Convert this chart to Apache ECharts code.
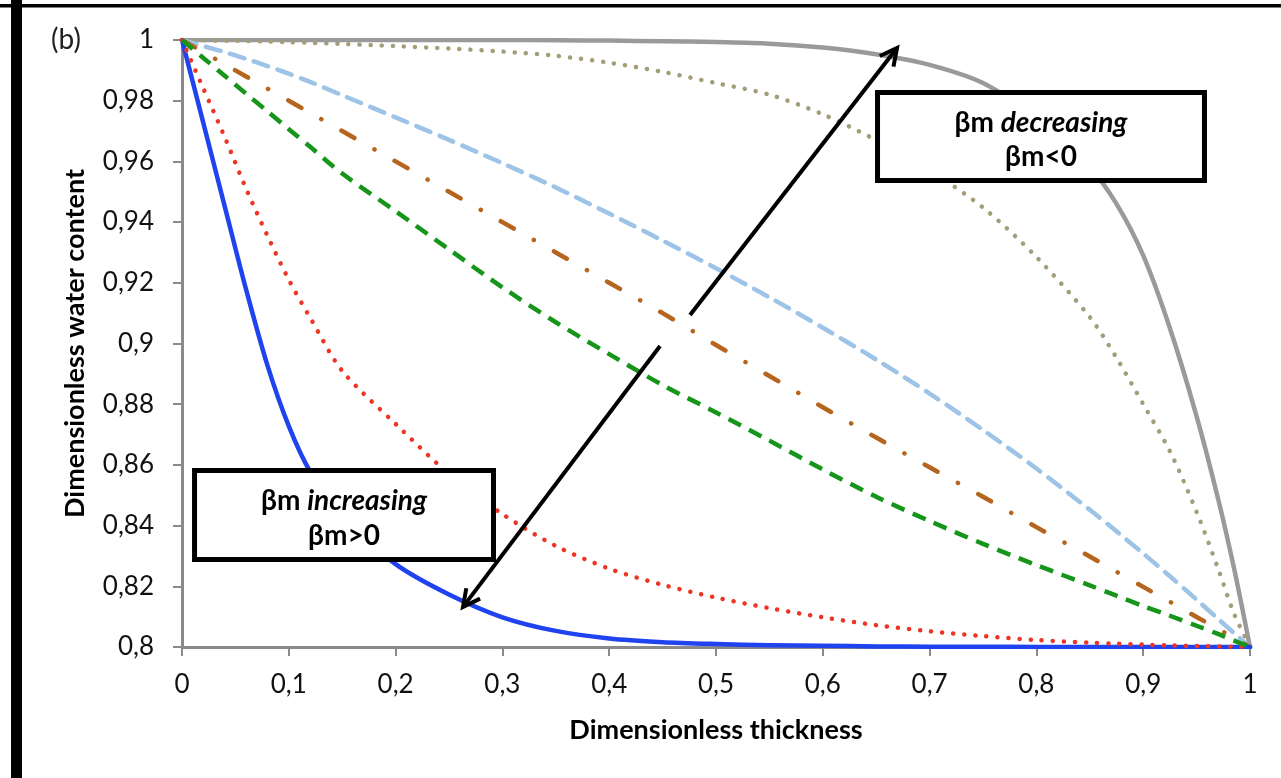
<!DOCTYPE html>
<html>
<head>
<meta charset="utf-8">
<script src="https://cdn.jsdelivr.net/npm/echarts@6/dist/echarts.min.js"></script>
<style>
  html, body { margin: 0; padding: 0; background: #fff; }
  #chart { width: 1281px; height: 778px; }
</style>
</head>
<body>
<div id="chart"></div>
<script>
// Dimensionless thickness sample positions
const xGrid = [0, 0.02, 0.04, 0.06, 0.08, 0.1, 0.12, 0.15, 0.2, 0.25, 0.3, 0.35, 0.4, 0.45, 0.5,
  0.55, 0.6, 0.65, 0.7, 0.75, 0.8, 0.85, 0.875, 0.9, 0.925, 0.95, 0.97, 0.985, 1];

// Dimensionless water content profiles
const curveBlue = [1, 0.9726, 0.9452, 0.9178, 0.8928, 0.8728, 0.8578, 0.8428, 0.8273, 0.8173, 0.8098, 0.8053,
  0.8028, 0.8016, 0.801, 0.8006, 0.8004, 0.8002, 0.8001, 0.8001, 0.8, 0.8, 0.8, 0.8, 0.8, 0.8, 0.8, 0.8, 0.8];
const curveRed = [1, 0.984, 0.968, 0.951, 0.9355, 0.921, 0.9085, 0.891, 0.8735, 0.857, 0.8438, 0.8333,
  0.8258, 0.8205, 0.8163, 0.8128, 0.8098, 0.8072, 0.8052, 0.8036, 0.8023, 0.8014, 0.8011, 0.8008, 0.8005, 0.8003, 0.8002, 0.8001, 0.8];
const curveGreen = [1, 0.9941, 0.9882, 0.9823, 0.9765, 0.9706, 0.9648, 0.956, 0.9436, 0.931, 0.9185, 0.907,
  0.8965, 0.8863, 0.8773, 0.868, 0.8585, 0.8495, 0.8415, 0.834, 0.827, 0.8203, 0.8169, 0.8135, 0.8103, 0.807, 0.8043, 0.8021, 0.8];
const curveBrown = [1, 0.996, 0.992, 0.988, 0.984, 0.98, 0.976, 0.97, 0.96, 0.95, 0.94, 0.93,
  0.92, 0.91, 0.8995, 0.8893, 0.879, 0.869, 0.8592, 0.8495, 0.8395, 0.8298, 0.8248, 0.8198, 0.8149, 0.8099, 0.806, 0.803, 0.8];
const curveLightBlue = [1, 0.998, 0.996, 0.9938, 0.9914, 0.9889, 0.9862, 0.9818, 0.9745, 0.9671, 0.9594, 0.9514,
  0.9428, 0.9339, 0.9248, 0.9152, 0.9052, 0.8947, 0.8835, 0.8715, 0.8588, 0.8452, 0.8381, 0.8308, 0.8233, 0.8156, 0.8093, 0.8046, 0.8];
const curveTan = [1, 0.9999, 0.9998, 0.9997, 0.9995, 0.9993, 0.9991, 0.9987, 0.998, 0.9972, 0.9962, 0.9948,
  0.9925, 0.9895, 0.9858, 0.982, 0.9755, 0.967, 0.957, 0.9448, 0.9285, 0.9087, 0.8953, 0.88, 0.8645, 0.8445, 0.826, 0.811, 0.8];
const curveGray = [1, 1, 1, 1, 1, 1, 1, 1, 1, 1, 1, 0.9999,
  0.9998, 0.9996, 0.9993, 0.9988, 0.9975, 0.9953, 0.9918, 0.9858, 0.974, 0.958, 0.946, 0.929, 0.905, 0.876, 0.849, 0.826, 0.8];

// Axis tick labels (decimal comma)
const xTickLabels = ['0', '0,1', '0,2', '0,3', '0,4', '0,5', '0,6', '0,7', '0,8', '0,9', '1'];
const yTickLabels = ['0,8', '0,82', '0,84', '0,86', '0,88', '0,9', '0,92', '0,94', '0,96', '0,98', '1'];

// Annotation anchors in data space: [x, y]
const arrowUp = { from: [0.4757, 0.9094], to: [0.6695, 0.9974] };
const arrowDown = { from: [0.4476, 0.8992], to: [0.2631, 0.8132] };
const boxDecreasing = { tl: [0.6489, 0.9835], br: [0.9597, 0.9529] };
const boxIncreasing = { tl: [0.0094, 0.8590], br: [0.2940, 0.8280] };

const FONT = 'Lato, "Noto Sans", sans-serif';

function pairs(ys) { return xGrid.map((x, i) => [x, ys[i]]); }

function lineSeries(name, ys, color, width, dash, cap) {
  return {
    name, type: 'line', data: pairs(ys), showSymbol: false, symbol: 'none',
    smooth: 0.3, silent: true,
    lineStyle: { color, width, type: dash, cap: cap || 'butt', join: 'round' }
  };
}

const chart = echarts.init(document.getElementById('chart'), null, { renderer: 'canvas' });

const axisGray = '#8a8a8a';

chart.setOption({
  animation: false,
  backgroundColor: '#ffffff',
  grid: { left: 182, right: 31, top: 40, bottom: 131 },
  xAxis: {
    type: 'value', min: 0, max: 1, interval: 0.1,
    name: 'Dimensionless thickness', nameLocation: 'middle', nameGap: 70,
    nameTextStyle: { fontFamily: FONT, fontWeight: 'bold', fontSize: 27, color: '#000' },
    axisLine: { show: true, lineStyle: { color: axisGray, width: 3 } },
    axisTick: { show: true, inside: false, length: 9, lineStyle: { color: axisGray, width: 2 } },
    axisLabel: {
      margin: 25, fontFamily: FONT, fontSize: 26, color: '#111',
      formatter: (v, i) => xTickLabels[i]
    },
    splitLine: { show: false }
  },
  yAxis: {
    type: 'value', min: 0.8, max: 1, interval: 0.02,
    name: 'Dimensionless water content', nameLocation: 'middle', nameGap: 93, nameRotate: 90,
    nameTextStyle: { fontFamily: FONT, fontWeight: 'bold', fontSize: 27, color: '#000' },
    axisLine: { show: true, lineStyle: { color: axisGray, width: 3 } },
    axisTick: { show: true, inside: false, length: 9, lineStyle: { color: axisGray, width: 2 } },
    axisLabel: {
      margin: 28, fontFamily: FONT, fontSize: 26, color: '#111',
      formatter: (v, i) => yTickLabels[i]
    },
    splitLine: { show: false }
  },
  series: [
    lineSeries('gray', curveGray, '#9a9a9a', 4.5, 'solid', 'round'),
    lineSeries('tan', curveTan, '#a39d78', 4.5, [0.1, 11], 'round'),
    lineSeries('lightblue', curveLightBlue, '#9dc3e6', 4.5, [15, 10], 'round'),
    lineSeries('brown', curveBrown, '#b5651d', 4.5, [15, 23, 0.1, 23], 'round'),
    lineSeries('blue', curveBlue, '#1f43ee', 4.5, 'solid', 'round'),
    lineSeries('red', curveRed, '#ee3524', 4.5, [0.1, 11], 'round'),
    lineSeries('green', curveGreen, '#15951a', 4.5, [14, 9], 'butt')
  ]
});

// Annotations: frame, panel label, arrows and boxes
function px(p) { return chart.convertToPixel({ gridIndex: 0 }, p); }

function arrow(a) {
  const s = px(a.from), e = px(a.to);
  const dx = e[0] - s[0], dy = e[1] - s[1];
  const len = Math.hypot(dx, dy);
  const ux = dx / len, uy = dy / len;
  const headLen = 19, ang = 27 * Math.PI / 180;
  const rot = (x, y, t) => [x * Math.cos(t) - y * Math.sin(t), x * Math.sin(t) + y * Math.cos(t)];
  const b1 = rot(-ux, -uy, ang), b2 = rot(-ux, -uy, -ang);
  const stroke = { stroke: '#000', lineWidth: 4, lineCap: 'butt', lineJoin: 'miter', fill: null };
  return [
    { type: 'line', shape: { x1: s[0], y1: s[1], x2: e[0] - ux * 2, y2: e[1] - uy * 2 }, style: stroke, z: 100 },
    { type: 'polyline', shape: { points: [[e[0] + b1[0] * headLen, e[1] + b1[1] * headLen], e, [e[0] + b2[0] * headLen, e[1] + b2[1] * headLen]] }, style: stroke, z: 100 }
  ];
}

function box(b, line1Word, line2) {
  const p1 = px(b.tl), p2 = px(b.br);
  const w = p2[0] - p1[0], h = p2[1] - p1[1];
  const cx = p1[0] + w / 2;
  return [
    { type: 'rect', shape: { x: p1[0] + 2.5, y: p1[1] + 2.5, width: w - 5, height: h - 5 },
      style: { fill: '#fff', stroke: '#000', lineWidth: 5 }, z: 110 },
    { type: 'text', x: cx, y: p1[1] + h * 0.35, z: 120,
      style: {
        text: '{a|βm }{b|' + line1Word + '}', align: 'center', verticalAlign: 'middle',
        rich: {
          a: { fontFamily: FONT, fontWeight: 'bold', fontSize: 28, fill: '#000' },
          b: { fontFamily: FONT, fontWeight: 'bold', fontStyle: 'italic', fontSize: 28, fill: '#000' }
        }
      } },
    { type: 'text', x: cx, y: p1[1] + h * 0.72, z: 120,
      style: { text: line2, align: 'center', verticalAlign: 'middle',
        fontFamily: FONT, fontWeight: 'bold', fontSize: 28, fill: '#000' } }
  ];
}

const graphics = [
  { type: 'rect', shape: { x: 0, y: 4, width: 1281, height: 3.5 }, style: { fill: '#000' }, z: 200 },
  { type: 'rect', shape: { x: 11, y: 0, width: 11, height: 778 }, style: { fill: '#000' }, z: 200 },
  { type: 'text', x: 66, y: 40, z: 120,
    style: { text: '(b)', align: 'center', verticalAlign: 'middle', fontFamily: FONT, fontSize: 28, fill: '#222' } }
].concat(arrow(arrowUp), arrow(arrowDown),
  box(boxDecreasing, 'decreasing', 'βm<0'),
  box(boxIncreasing, 'increasing', 'βm>0'));

chart.setOption({ graphic: graphics });
</script>
</body>
</html>
